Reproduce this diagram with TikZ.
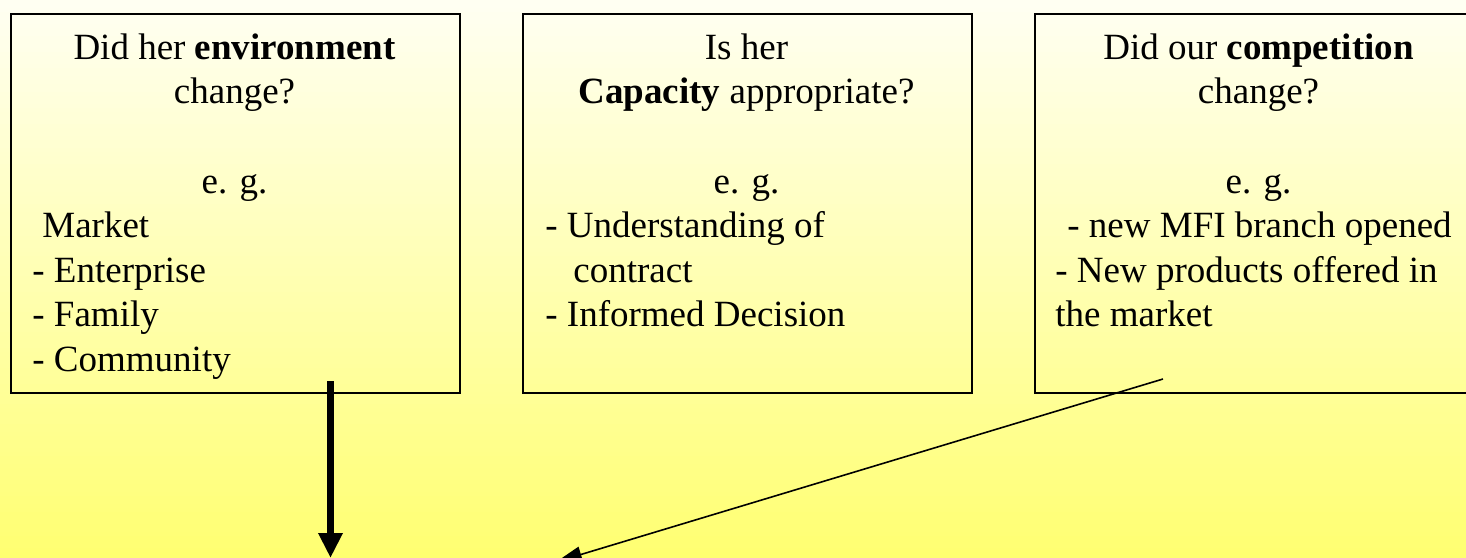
\documentclass[tikz,border=0pt]{standalone}
\usepackage{fontspec}
\newfontfamily\tnr{Liberation Serif}
\usetikzlibrary{arrows.meta}
\definecolor{bgtop}{RGB}{255,255,242}
\definecolor{bgbot}{RGB}{255,255,112}
\begin{document}
\begin{tikzpicture}[x=0.5pt,y=-0.5pt,
  box/.style={draw,line width=1pt,anchor=north west,inner sep=0pt,
    minimum width=224.5pt,minimum height=189.5pt},
  txt/.style={font=\tnr\fontsize{18.5}{22}\selectfont,inner sep=0pt},
  cline/.style={txt,anchor=base},
  lline/.style={txt,anchor=base west},
  thickarrow/.style={line width=3.5pt,-{Triangle[width=11.5pt,length=12.5pt]}},
  thinarrow/.style={line width=0.8pt,-{Triangle[width=8pt,length=13pt]}}]
\useasboundingbox (0,0) rectangle (1466,557);
% background gradient as thin strips
\foreach \i in {0,...,139} {
  \pgfmathtruncatemacro\p{\i*100/139}
  \fill[bgbot!\p!bgtop] (0,\i*4) rectangle (1466,\i*4+4.6);
}

% boxes
\node[box] (box1) at (10,13) {};
\node[box] (box2) at (522,13) {};
\node[box] (box3) at (1034,13) {};

% box 1 text
\node[cline] (b1a) at (234.5,59) {Did her \textbf{environment}};
\node[cline] (b1b) at (234.5,103) {change?};
\node[cline] (b1c) at (234.5,193) {e. g.};
\node[lline] (b1d) at (42,237) {Market};
\node[lline] (b1e) at (32,282) {- Enterprise};
\node[lline] (b1f) at (32,326) {- Family};
\node[lline] (b1g) at (32,371) {- Community};

% box 2 text
\node[cline] (b2a) at (746.5,59) {Is her};
\node[cline] (b2b) at (746.5,103) {\textbf{Capacity} appropriate?};
\node[cline] (b2c) at (746.5,193) {e. g.};
\node[lline] (b2d) at (545,237) {- Understanding of};
\node[lline] (b2e) at (573,282) {contract};
\node[lline] (b2f) at (545,326) {- Informed Decision};

% box 3 text
\node[cline] (b3a) at (1258.5,59) {Did our \textbf{competition}};
\node[cline] (b3b) at (1258.5,103) {change?};
\node[cline] (b3c) at (1258.5,193) {e. g.};
\node[lline] (b3d) at (1067,237) {- new MFI branch opened};
\node[lline] (b3e) at (1055,282) {- New products of\kern0pt fered in};
\node[lline] (b3f) at (1055,326) {the market};

% arrows
\coordinate (a1s) at (330.5,381);
\coordinate (a1e) at (330.5,558);
\draw[thickarrow] (a1s) -- (a1e);
\coordinate (a2s) at (1163,379);
\coordinate (a2e) at (556,562);
\draw[thinarrow] (a2s) -- (a2e);
\end{tikzpicture}
\end{document}
